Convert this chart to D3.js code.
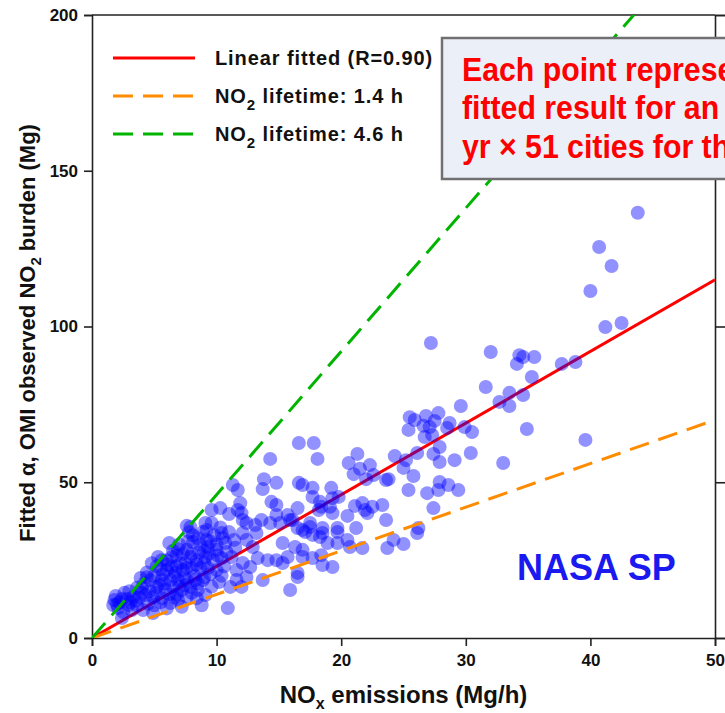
<!DOCTYPE html>
<html>
<head>
<meta charset="utf-8">
<script src="https://cdn.jsdelivr.net/npm/d3@7"></script>
<style>
  body { margin: 0; background: #fff; }
  svg { display: block; }
</style>
</head>
<body>
<div id="chart"></div>
<script>
var xTicks = [0, 10, 20, 30, 40, 50];
var yTicks = [0, 50, 100, 150, 200];

// slope of each line, Mg per (Mg/h)
var fitNames = ["fit", "tau14", "tau46"];
var fitSlopes = [2.3, 1.4, 4.6];

var boxLines = ["Each point represents the", "fitted result for an individual", "yr \u00d7 51 cities for the period"];

// [NOx emissions (Mg/h), fitted alpha (Mg)]
var upperPoints = [
  [43.8,136.5],[40.7,125.5],[41.7,119.4],[40.0,111.4],[41.2,99.8],[42.5,101.1],
  [27.2,94.7],[32.0,91.8],[34.3,90.8],[34.6,90.2],[35.5,90.2],[34.1,88.0],[37.7,88.0],[38.8,88.6],
  [35.3,83.8],[31.6,80.6],[32.7,75.8],[33.5,78.7],[34.6,78.0],[33.5,74.5],[29.6,74.5],[34.9,67.1],
  [39.6,63.6],[33.0,56.2]
];
var midPoints = [
  [25.5,70.9],[25.9,70.0],[26.8,71.3],[27.8,72.2],[27.5,69.7],[26.6,68.1],[27.1,67.7],[25.4,66.8],
  [27.3,65.2],[26.7,64.5],[28.7,69.0],[28.5,67.4],[29.9,67.7],[30.5,66.1],[27.9,61.3],[26.1,59.4],
  [27.4,59.1],[27.9,56.5],[29.1,57.1],[30.4,59.4],[24.3,58.4],[25.2,57.1],[25.0,54.6],[25.8,52.0],
  [23.8,51.0],[23.6,50.7],[22.3,55.5],[21.3,59.1],[20.6,56.2],[21.5,54.3],[21.0,52.6],[22.0,51.0],
  [22.6,52.3],[27.9,50.1],[28.6,49.1],[27.8,47.5],[29.4,47.5],[25.4,47.5],[26.9,46.5],[27.4,41.7],
  [19.2,48.2],[17.8,62.6],[18.1,57.5],[16.6,62.6],[19.8,45.3],[19.3,44.9],[18.3,43.7],[17.7,45.3],
  [16.9,49.1],[17.7,48.2],[19.1,42.1],[18.4,42.1],[21.7,43.3],[22.5,42.1],[23.3,42.7],[22.1,40.1],
  [21.1,42.4],[20.5,39.2],[23.6,37.9],[21.2,35.3],[19.7,35.3],[18.5,35.3],[17.5,35.6],[26.2,35.3],
  [19.3,40.1],[18.2,41.1],[21.9,41.1],[16.5,41.7],[15.7,39.5],[16.1,37.9],[15.1,36.9],[17.5,36.9],
  [16.5,35.3],[17.1,34.0],[17.7,33.1],[18.5,33.7],[19.7,34.0],[19.7,30.5],[18.9,30.5],[18.3,32.4],
  [20.5,31.5],[21.7,28.9],[20.7,29.2],[16.3,29.2],[16.9,26.0],[17.7,25.7],[18.4,26.6],[15.7,26.0],
  [15.3,24.1],[18.5,23.4],[19.3,22.8],[16.5,20.9],[15.9,15.4],[23.7,28.9],[24.2,31.5],[25.0,30.2],
  [26.1,33.7],[16.6,49.8]
];
var lowPoints = [
  [14.3,57.5],[13.8,51.0],[13.7,47.8],[11.7,47.5],[11.3,49.1],[11.9,43.3],[11.7,41.1],[11.0,39.8],
  [10.3,41.7],[9.6,41.1],[12.1,37.9],[14.4,43.7],[14.8,42.7],[14.8,39.5],[13.6,37.9],[13.1,36.3],
  [15.9,37.9],[9.1,36.9],[9.2,34.7],[7.9,35.6],[7.6,36.0],[12.0,40.1],[9.6,36.9],[10.4,33.7],
  [8.9,34.0],[10.5,32.1],[8.1,30.8],[8.7,29.9],[9.3,29.2],[10.0,28.3],[10.8,27.6],[7.6,28.3],
  [7.9,26.0],[8.4,25.0],[9.1,26.0],[9.7,25.0],[10.4,25.7],[6.8,26.6],[7.1,24.1],[6.4,22.8],
  [6.0,21.8],[6.7,20.9],[7.3,21.8],[8.0,22.5],[8.7,22.5],[9.3,22.5],[10.0,21.8],[5.6,18.6],
  [6.3,18.6],[6.9,18.6],[7.6,18.6],[8.3,18.6],[8.9,18.6],[5.2,16.4],[5.9,15.4],[6.5,16.4],
  [7.2,15.4],[7.9,16.4],[8.5,15.4],[4.7,18.6],[3.9,19.3],[3.6,16.1],[4.3,13.8],[4.9,13.2],
  [5.6,12.8],[6.3,11.2],[6.9,12.2],[7.6,13.2],[8.4,12.8],[9.1,13.8],[3.3,13.2],[2.9,10.6],
  [1.8,12.2],[2.1,9.6],[2.5,8.3],[2.4,6.4],[1.7,10.6],[4.9,8.0],[4.1,9.0],[10.9,9.6],
  [13.7,18.6],[16.5,19.6],[16.9,28.3],[14.8,25.0],[14.1,25.0],[13.3,25.7],[12.7,22.8],[12.1,24.1],
  [12.4,19.6],[11.6,18.6],[12.0,16.4],[11.1,16.4],[11.6,21.8],[12.9,29.2],[12.4,31.5],[13.2,33.7],
  [14.3,36.9],[16.9,34.7],[15.3,30.5],[14.8,49.8],[12.4,36.9],[12.1,33.7],
  [3.0,15.0],[3.5,12.0],[4.0,16.0],[4.5,11.0],[5.0,20.0],[5.5,22.0],[6.0,25.0],[6.5,28.0],
  [7.0,30.0],[7.5,24.0],[8.0,27.0],[8.5,32.0],[9.0,28.0],[9.5,31.0],[10.0,30.0],[4.8,24.0],
  [5.3,26.0],[6.2,30.5],[7.8,34.0],[8.2,20.0],[6.8,14.0],[7.2,10.0],[8.8,10.5],[9.6,16.5],
  [10.2,18.0],[10.6,23.0],[11.2,26.0],[11.5,29.0],[3.2,9.0],[2.8,12.5],[2.2,11.5],[1.9,13.5],
  [2.6,14.5],[3.8,13.0],[4.4,21.0],[5.8,17.5],[6.6,20.0],[7.4,19.5]
];
var corePoints = [
  [4.2,17.5],[4.6,15.0],[5.1,14.5],[5.4,17.0],[5.7,20.5],[6.1,23.5],[6.4,26.0],[6.9,28.5],
  [7.3,27.0],[7.7,31.0],[8.1,33.0],[8.6,27.5],[9.0,24.0],[9.4,27.0],[9.8,33.0],[10.3,35.5],
  [10.7,30.5],[11.0,34.0],[11.4,31.5],[6.2,14.0],[6.6,13.0],[7.0,16.5],[7.5,17.0],[8.0,14.5],
  [8.5,17.5],[9.0,19.5],[9.5,20.5],[10.4,20.0],[5.0,10.5],[5.5,11.5],[6.0,9.5],[3.6,10.5],
  [3.1,11.5],[2.4,12.5],[2.0,10.8],[4.0,14.5],[4.4,19.5],[5.2,23.0],[5.6,25.0],[6.8,23.0],
  [7.6,22.5],[8.4,23.5],[9.2,31.5],[10.1,26.5]
];

var allPoints = upperPoints.concat(midPoints, lowPoints, corePoints);

var width = 725, height = 713;
var margin = {top: 15, right: 10, bottom: 75, left: 92};
var chartWidth = 715 - margin.left;
var chartHeight = 638 - margin.top;

var narrow = "'Liberation Sans Narrow','Arial Narrow',sans-serif";
var arial = "'Liberation Sans',Arial,sans-serif";

var svg = d3.select('#chart').append('svg')
    .attr('width', width)
    .attr('height', height);

svg.append('rect').attr('width', width).attr('height', height).attr('fill', '#fff');

var g = svg.append('g')
    .attr('transform', `translate(${margin.left}, ${margin.top})`);

var xScale = d3.scaleLinear().domain([0, 50]).range([0, chartWidth]);
var yScale = d3.scaleLinear().domain([0, 200]).range([chartHeight, 0]);

g.append('clipPath').attr('id', 'plotclip')
  .append('rect').attr('width', chartWidth).attr('height', chartHeight);

// axes
var xAxis = d3.axisBottom(xScale).tickValues(xTicks).tickSize(8).tickPadding(8);
var yAxis = d3.axisLeft(yScale).tickValues(yTicks).tickSize(8).tickPadding(6);
var yAxisRight = d3.axisRight(yScale).tickValues(yTicks).tickSize(10).tickFormat('');

function styleAxis(sel) {
  sel.select('.domain').attr('stroke', '#222').attr('stroke-width', 1.6);
  sel.selectAll('.tick line').attr('stroke', '#222').attr('stroke-width', 1.6);
  sel.selectAll('.tick text')
    .attr('fill', '#111')
    .style('font-family', narrow)
    .style('font-weight', 'bold')
    .style('font-size', '17px');
}

g.append('g')
  .attr('transform', `translate(0,${chartHeight})`)
  .call(xAxis).call(styleAxis);

g.append('g').call(yAxis).call(styleAxis);

g.append('g')
  .attr('transform', `translate(${chartWidth},0)`)
  .call(yAxisRight).call(styleAxis);

g.append('line')
  .attr('x1', 0).attr('x2', chartWidth)
  .attr('y1', 0).attr('y2', 0)
  .attr('stroke', '#222').attr('stroke-width', 1.6);

// fitted line + lifetime lines
var lineColors = {fit: '#ff0000', tau14: '#ff8c00', tau46: '#00b400'};
var lineDash = {fit: null, tau14: '20,10', tau46: '20,10'};

function drawFit(i) {
  var name = fitNames[i];
  g.append('line')
    .attr('clip-path', 'url(#plotclip)')
    .attr('x1', xScale(0)).attr('y1', yScale(0))
    .attr('x2', xScale(50)).attr('y2', yScale(50 * fitSlopes[i]))
    .attr('stroke', lineColors[name])
    .attr('stroke-width', 3)
    .attr('stroke-dasharray', lineDash[name]);
}

drawFit(0);

g.append('g')
  .attr('clip-path', 'url(#plotclip)')
  .selectAll('circle')
  .data(allPoints)
  .enter()
  .append('circle')
  .attr('cx', d => xScale(d[0]))
  .attr('cy', d => yScale(d[1]))
  .attr('r', 7)
  .attr('fill', '#0000ff')
  .attr('fill-opacity', 0.43);

drawFit(1);
drawFit(2);

// legend
var legendItems = [
  {name: 'fit', parts: [['Linear fitted (R=0.90)', false]]},
  {name: 'tau14', parts: [['NO', false], ['2', true], [' lifetime: 1.4 h', false]]},
  {name: 'tau46', parts: [['NO', false], ['2', true], [' lifetime: 4.6 h', false]]}
];

var legend = svg.append('g').attr('transform', 'translate(113,58)');
legendItems.forEach(function(item, i) {
  var row = legend.append('g').attr('transform', `translate(0,${i * 38})`);
  row.append('line')
    .attr('x1', 0).attr('x2', 82).attr('y1', 0).attr('y2', 0)
    .attr('stroke', lineColors[item.name])
    .attr('stroke-width', 3)
    .attr('stroke-dasharray', lineDash[item.name]);
  var t = row.append('text')
    .attr('x', 102).attr('y', 7)
    .style('font-family', arial)
    .style('font-weight', 'bold')
    .style('font-size', '20px')
    .style('letter-spacing', '0.9px')
    .attr('fill', '#111');
  item.parts.forEach(function(p) {
    var ts = t.append('tspan').text(p[0]);
    if (p[1]) ts.attr('dy', 7).style('font-size', '15px');
    else if (t.selectAll('tspan').size() > 1) ts.attr('dy', -7);
  });
});

// text box
svg.append('rect')
  .attr('x', 442).attr('y', 38)
  .attr('width', 320).attr('height', 141)
  .attr('fill', '#ebf0f8')
  .attr('stroke', '#707070')
  .attr('stroke-width', 2.5);

svg.append('g')
  .attr('transform', 'translate(462,0) scale(0.89,1)')
  .selectAll('text')
  .data(boxLines)
  .enter()
  .append('text')
  .attr('x', 0)
  .attr('y', (d, i) => 81 + i * 38.5)
  .attr('fill', '#ff0000')
  .style('font-family', narrow)
  .style('font-weight', 'bold')
  .style('font-size', '34px')
  .text(d => d);

// NASA SP label
svg.append('text')
  .attr('x', 517).attr('y', 580)
  .attr('fill', '#1a1af0')
  .style('font-family', arial)
  .style('font-weight', 'bold')
  .style('font-size', '36px')
  .text('NASA SP');

// axis titles
var xTitle = svg.append('text')
  .attr('x', 92 + chartWidth / 2).attr('y', 703)
  .attr('text-anchor', 'middle')
  .attr('fill', '#111')
  .style('font-family', narrow)
  .style('font-weight', 'bold')
  .style('font-size', '24px');
xTitle.append('tspan').text('NO');
xTitle.append('tspan').text('x').attr('dy', 6).style('font-size', '16px');
xTitle.append('tspan').text(' emissions (Mg/h)').attr('dy', -6);

var yTitle = svg.append('text')
  .attr('transform', 'translate(35,333) rotate(-90)')
  .attr('text-anchor', 'middle')
  .attr('fill', '#111')
  .style('font-family', arial)
  .style('font-weight', 'bold')
  .style('font-size', '22px');
yTitle.append('tspan').text('Fitted \u03b1, OMI observed NO');
yTitle.append('tspan').text('2').attr('dy', 6).style('font-size', '15px');
yTitle.append('tspan').text(' burden (Mg)').attr('dy', -6);
</script>
</body>
</html>
